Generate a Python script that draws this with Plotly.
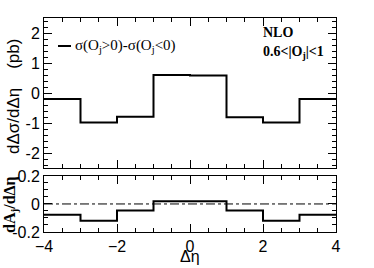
import plotly.graph_objects as go

bin_edges = [-4, -3, -2, -1, 0, 1, 2, 3, 4]
dsigma = [-0.2, -0.98, -0.79, 0.6, 0.58, -0.81, -0.98, -0.2]
asym = [-0.077, -0.12, -0.046, 0.02, 0.02, -0.046, -0.12, -0.077]
x_ticks = [-4, -2, 0, 2, 4]
y1_ticks = [-2, -1, 0, 1, 2]
y2_ticks = [-0.2, 0, 0.2]

fig = go.Figure()
fig.add_trace(go.Scatter(x=bin_edges, y=dsigma + [dsigma[-1]], mode="lines",
                         line=dict(shape="hv", color="black", width=2),
                         xaxis="x", yaxis="y", showlegend=False, hoverinfo="skip"))
fig.add_trace(go.Scatter(x=bin_edges, y=asym + [asym[-1]], mode="lines",
                         line=dict(shape="hv", color="black", width=2),
                         xaxis="x2", yaxis="y2", showlegend=False, hoverinfo="skip"))

tickfont = dict(family="Liberation Sans, Arial, sans-serif", size=16, color="black")
common_x = dict(range=[-4, 4], tickvals=x_ticks, ticks="inside", ticklen=8,
                showline=True, linecolor="black", linewidth=1, mirror="allticks",
                showgrid=False, zeroline=False, tickcolor="black", automargin=False,
                minor=dict(ticks="inside", ticklen=4, dtick=0.5, tickcolor="black"))
fig.update_layout(
    width=374, height=268,
    margin=dict(l=44, r=38, t=18, b=36, autoexpand=False),
    paper_bgcolor="white", plot_bgcolor="white",
    xaxis=dict(domain=[0, 1], anchor="y", showticklabels=False, **common_x),
    xaxis2=dict(domain=[0, 1], anchor="y2", showticklabels=True, tickfont=tickfont,
                **common_x),
    yaxis=dict(domain=[0.299, 1], anchor="x", range=[-2.5, 2.5], tickvals=y1_ticks,
               ticktext=[str(v) for v in y1_ticks], automargin=False,
               ticks="inside", ticklen=8, showline=True, linecolor="black", linewidth=1,
               mirror="allticks", showgrid=False, zeroline=False, tickcolor="black",
               tickfont=tickfont,
               minor=dict(ticks="inside", ticklen=4, dtick=0.2, tickcolor="black")),
    yaxis2=dict(domain=[0, 0.262], anchor="x2", range=[-0.2, 0.2], tickvals=y2_ticks,
                ticktext=["-0.2", "0", "0.2"], automargin=False,
                ticks="inside", ticklen=8, showline=True, linecolor="black", linewidth=1,
                mirror="allticks", showgrid=False, zeroline=False, tickcolor="black",
                tickfont=tickfont,
                minor=dict(ticks="inside", ticklen=4, dtick=0.05, tickcolor="black")),
)

fig.add_shape(type="line", xref="x2", yref="y2", x0=-4, x1=4, y0=0, y1=0,
              line=dict(color="black", width=1, dash="dashdot"), layer="below")

serif = "Liberation Serif, Times New Roman, serif"
# legend
fig.add_shape(type="line", xref="paper", yref="paper", x0=(58 - 44) / 292, x1=(71 - 44) / 292,
              y0=(232 - 46) / 214, y1=(232 - 46) / 214, line=dict(color="black", width=2))
fig.add_annotation(xref="paper", yref="paper", x=(73 - 44) / 292, y=(232 - 46) / 214,
                   xanchor="left", yanchor="middle", showarrow=False,
                   text="σ(O<sub>j</sub>&gt;0)-σ(O<sub>j</sub>&lt;0)",
                   font=dict(family=serif, size=15, color="black"))
fig.add_annotation(xref="paper", yref="paper", x=(261 - 44) / 292, y=(232 - 33) / 214,
                   xanchor="left", yanchor="middle", showarrow=False,
                   text="<b>NLO</b>", font=dict(family=serif, size=14, color="black"))
fig.add_annotation(xref="paper", yref="paper", x=(261 - 44) / 292, y=(232 - 52) / 214,
                   xanchor="left", yanchor="middle", showarrow=False,
                   text="<b>0.6&lt;|O<sub>j</sub>|&lt;1</b>",
                   font=dict(family=serif, size=14, color="black"))
# axis titles
sans = "Liberation Sans, Arial, sans-serif"
fig.add_annotation(xref="paper", yref="paper", x=(13 - 44) / 292, y=(232 - 97) / 214,
                   xanchor="center", yanchor="middle", showarrow=False, textangle=-90,
                   text="dΔσ/dΔη    (pb)", font=dict(family=sans, size=17, color="black"))
fig.add_annotation(xref="paper", yref="paper", x=(10 - 44) / 292, y=(232 - 205) / 214,
                   xanchor="center", yanchor="middle", showarrow=False, textangle=-90,
                   text="<b>dA<sub>j</sub>/dΔη</b>", font=dict(family=serif, size=16, color="black"))
fig.add_annotation(xref="paper", yref="paper", x=(190 - 44) / 292, y=(232 - 256) / 214,
                   xanchor="center", yanchor="middle", showarrow=False,
                   text="Δη", font=dict(family=sans, size=16, color="black"))

fig.write_html("out.html", config={"displayModeBar": False},
               post_script="document.body.style.margin='0';")
